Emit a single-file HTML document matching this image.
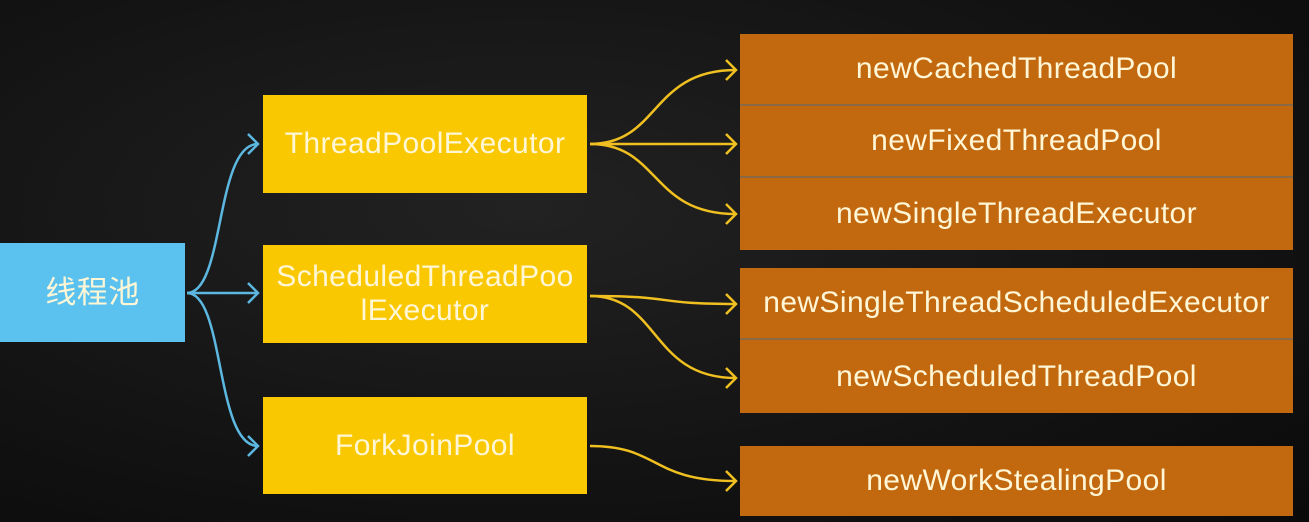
<!DOCTYPE html>
<html><head><meta charset="utf-8"><style>
body{margin:0;width:1309px;height:522px;overflow:hidden;background:radial-gradient(ellipse at 40% 40%,#222 0%,#131313 60%,#0a0a0a 100%);font-family:"Liberation Sans","Noto Sans CJK SC",sans-serif;position:relative}
.b{position:absolute;display:flex;align-items:center;justify-content:center;text-align:center;color:#fff6d6;font-size:30px;letter-spacing:0.4px;line-height:34px}
.y{background:#fac800}
.o{background:#c2680f;border-bottom:2px solid #8a6a45;box-sizing:border-box}
</style></head><body>
<svg width="1309" height="522" style="position:absolute;left:0;top:0">
<g fill="none" stroke="#5cb8e0" stroke-width="2.5">
<path d="M187 293 C225 293,215 144,258 144"/>
<path d="M187 293 L258 293"/>
<path d="M187 293 C225 293,215 446,258 446"/>
<path d="M248 134 L258 144 L248 154 M248 283 L258 293 L248 303 M248 436 L258 446 L248 456"/>
</g>
<g fill="none" stroke="#f0c020" stroke-width="2.5">
<path d="M590 144 C660 144,650 70,736 70"/>
<path d="M590 144 L736 144"/>
<path d="M590 144 C660 144,650 214,736 214"/>
<path d="M590 296 C680 296,650 304,736 304"/>
<path d="M590 296 C660 296,650 378,736 378"/>
<path d="M590 446 C660 446,650 481,736 481"/>
<path d="M726 60 L736 70 L726 80 M726 134 L736 144 L726 154 M726 204 L736 214 L726 224 M726 294 L736 304 L726 314 M726 368 L736 378 L726 388 M726 471 L736 481 L726 491"/>
</g>
</svg>
<div class="b" style="left:0;top:243px;width:185px;height:99px;background:#5bc2f0;font-size:31px">线程池</div>
<div class="b y" style="left:263px;top:95px;width:324px;height:98px">ThreadPoolExecutor</div>
<div class="b y" style="left:263px;top:245px;width:324px;height:98px">ScheduledThreadPoo<br>lExecutor</div>
<div class="b y" style="left:263px;top:397px;width:324px;height:97px">ForkJoinPool</div>
<div class="b o" style="left:740px;top:34px;width:553px;height:72px">newCachedThreadPool</div>
<div class="b o" style="left:740px;top:106px;width:553px;height:72px">newFixedThreadPool</div>
<div class="b o" style="left:740px;top:178px;width:553px;height:72px;border:none">newSingleThreadExecutor</div>
<div class="b o" style="left:740px;top:268px;width:553px;height:72px">newSingleThreadScheduledExecutor</div>
<div class="b o" style="left:740px;top:340px;width:553px;height:73px;border:none">newScheduledThreadPool</div>
<div class="b o" style="left:740px;top:446px;width:553px;height:70px;border:none">newWorkStealingPool</div>
</body></html>
